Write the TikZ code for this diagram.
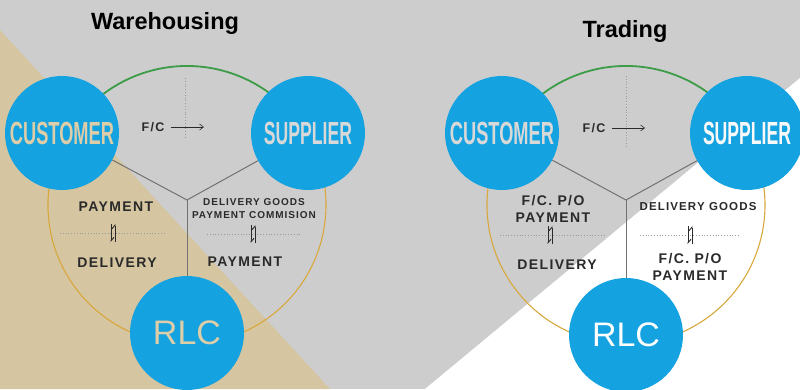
\documentclass[tikz,border=0pt]{standalone}
\usepackage{fontspec}
\usepackage{graphicx}
\setmainfont{Liberation Sans}
\newfontfamily\labfont{Liberation Sans}[LetterSpace=10]
\usetikzlibrary{arrows.meta}

\definecolor{bggray}{HTML}{CDCDCD}
\definecolor{bgtan}{HTML}{D5C5A0}
\definecolor{ballblue}{HTML}{14A2E0}
\definecolor{arcgreen}{HTML}{3C9C48}
\definecolor{arcgold}{HTML}{D8A83C}
\definecolor{ylinegray}{HTML}{727272}
\definecolor{labtext}{HTML}{2A2A2A}
\definecolor{txttan}{HTML}{DDCDA8}
\definecolor{txtgray}{HTML}{D8D8D8}

\tikzset{
  ball/.style={circle,fill=ballblue,minimum size=114pt,inner sep=0pt},
  balltext/.style={font=\bfseries\fontsize{32}{32}\selectfont},
  rlctext/.style={font=\fontsize{34}{34}\selectfont},
  title/.style={anchor=base,font=\bfseries\fontsize{23.5}{26}\selectfont,text=black},
  small/.style={font=\labfont\bfseries\fontsize{10}{13}\selectfont},
  fctext/.style={font=\labfont\bfseries\fontsize{12.5}{14}\selectfont},
  greenarc/.style={draw=arcgreen,line width=1.8pt},
  goldarc/.style={draw=arcgold,line width=1.1pt},
  yline/.style={draw=ylinegray,line width=1pt},
  dots/.style={draw=gray!80,dotted,line width=0.8pt},
  harp/.style={draw=labtext,line width=0.9pt,-{Straight Barb[harpoon,length=3.5pt,width=6pt]}},
  fcarrow/.style={draw=labtext,line width=0.6pt,shorten <=5pt,-{Straight Barb[length=4pt,width=6pt]}}
}

% pair of harpoons, down and up
\newcommand\harppair[1]{%
  \draw[harp] ([shift={(-2,-9)}]#1) -- ([shift={(-2,9)}]#1);
  \draw[harp] ([shift={(2,9)}]#1) -- ([shift={(2,-9)}]#1);}

\begin{document}
\begin{tikzpicture}[x=1pt,y=-1pt,
  every node/.style={font=\labfont\bfseries\fontsize{14}{17}\selectfont,text=labtext,align=center,inner sep=1pt}]
  \useasboundingbox (0,0) rectangle (800,389);
  \clip (0,0) rectangle (800,389);

  % background
  \fill[bggray] (0,0) rectangle (800,389);
  \fill[bgtan] (0,30) -- (330,389) -- (0,389) -- cycle;
  \fill[white] (800,78) -- (425,389) -- (800,389) -- cycle;

  \node[title] (tw) at (165,29) {Warehousing};
  \node[title] (tt) at (625,37) {Trading};

  % Warehousing
  \coordinate (ow) at (187,205);
  \coordinate (jw) at (187,200);
  \draw[greenarc] ([shift={(200:139)}]ow) arc[start angle=200,end angle=340,radius=139];
  \draw[goldarc] ([shift={(190:139)}]ow) arc[start angle=190,end angle=-10,radius=139];

  \node[ball,balltext,text=txttan] (cw) at (62,133) {\scalebox{0.57}[1]{CUSTOMER}};
  \node[ball,balltext,text=txtgray] (sw) at (308,133) {\scalebox{0.55}[1]{SUPPLIER}};
  \node[ball,rlctext,text=txttan] (rw) at (187,333) {RLC};

  \draw[yline] (cw) -- (jw) -- (sw);
  \draw[yline] (jw) -- (rw);

  \coordinate (vw1) at (185,78);
  \coordinate (vw2) at (185,138);
  \draw[dots] (vw1) -- (vw2);
  \node[fctext] (fcw) at (153,127) {F/C};
  \coordinate (aw) at (204,127);
  \draw[fcarrow] (fcw) -- (aw);

  \node (pw) at (116,207) {PAYMENT};
  \node (dw) at (117,263) {DELIVERY};
  \coordinate (hl1) at (60,233);
  \coordinate (hl2) at (165,233);
  \coordinate (hw1) at (113,233);
  \draw[dots] (hl1) -- (hl2);
  \harppair{hw1}

  \node[small] (gw) at (254,209) {DELIVERY GOODS\\PAYMENT COMMISION};
  \node (pw2) at (245,262) {PAYMENT};
  \coordinate (hr1) at (207,234);
  \coordinate (hr2) at (300,234);
  \coordinate (hw2) at (253,234);
  \draw[dots] (hr1) -- (hr2);
  \harppair{hw2}

  % Trading
  \coordinate (ot) at (626,205);
  \coordinate (jt) at (626,200);
  \draw[greenarc] ([shift={(200:139)}]ot) arc[start angle=200,end angle=340,radius=139];
  \draw[goldarc] ([shift={(190:139)}]ot) arc[start angle=190,end angle=-10,radius=139];

  \node[ball,balltext,text=txtgray] (ct) at (502,133) {\scalebox{0.57}[1]{CUSTOMER}};
  \node[ball,balltext,text=white!95!gray] (st) at (747,133) {\scalebox{0.55}[1]{SUPPLIER}};
  \node[ball,rlctext,text=white] (rt) at (626,335) {RLC};

  \draw[yline] (ct) -- (jt) -- (st);
  \draw[yline] (jt) -- (rt);

  \coordinate (vt1) at (626,76);
  \coordinate (vt2) at (626,148);
  \draw[dots] (vt1) -- (vt2);
  \node[fctext] (fct) at (594,128) {F/C};
  \coordinate (at) at (645,128);
  \draw[fcarrow] (fct) -- (at);

  \node (pt) at (553,209) {F/C. P/O\\PAYMENT};
  \node (dt) at (557,265) {DELIVERY};
  \coordinate (tl1) at (500,235);
  \coordinate (tl2) at (605,235);
  \coordinate (ht1) at (550,235);
  \draw[dots] (tl1) -- (tl2);
  \harppair{ht1}

  \node[font=\labfont\bfseries\fontsize{11.5}{14}\selectfont] (gt) at (698,207) {DELIVERY GOODS};
  \node (pt2) at (690,267) {F/C. P/O\\PAYMENT};
  \coordinate (tr1) at (640,235);
  \coordinate (tr2) at (740,235);
  \coordinate (ht2) at (690,235);
  \draw[dots] (tr1) -- (tr2);
  \harppair{ht2}
\end{tikzpicture}
\end{document}
